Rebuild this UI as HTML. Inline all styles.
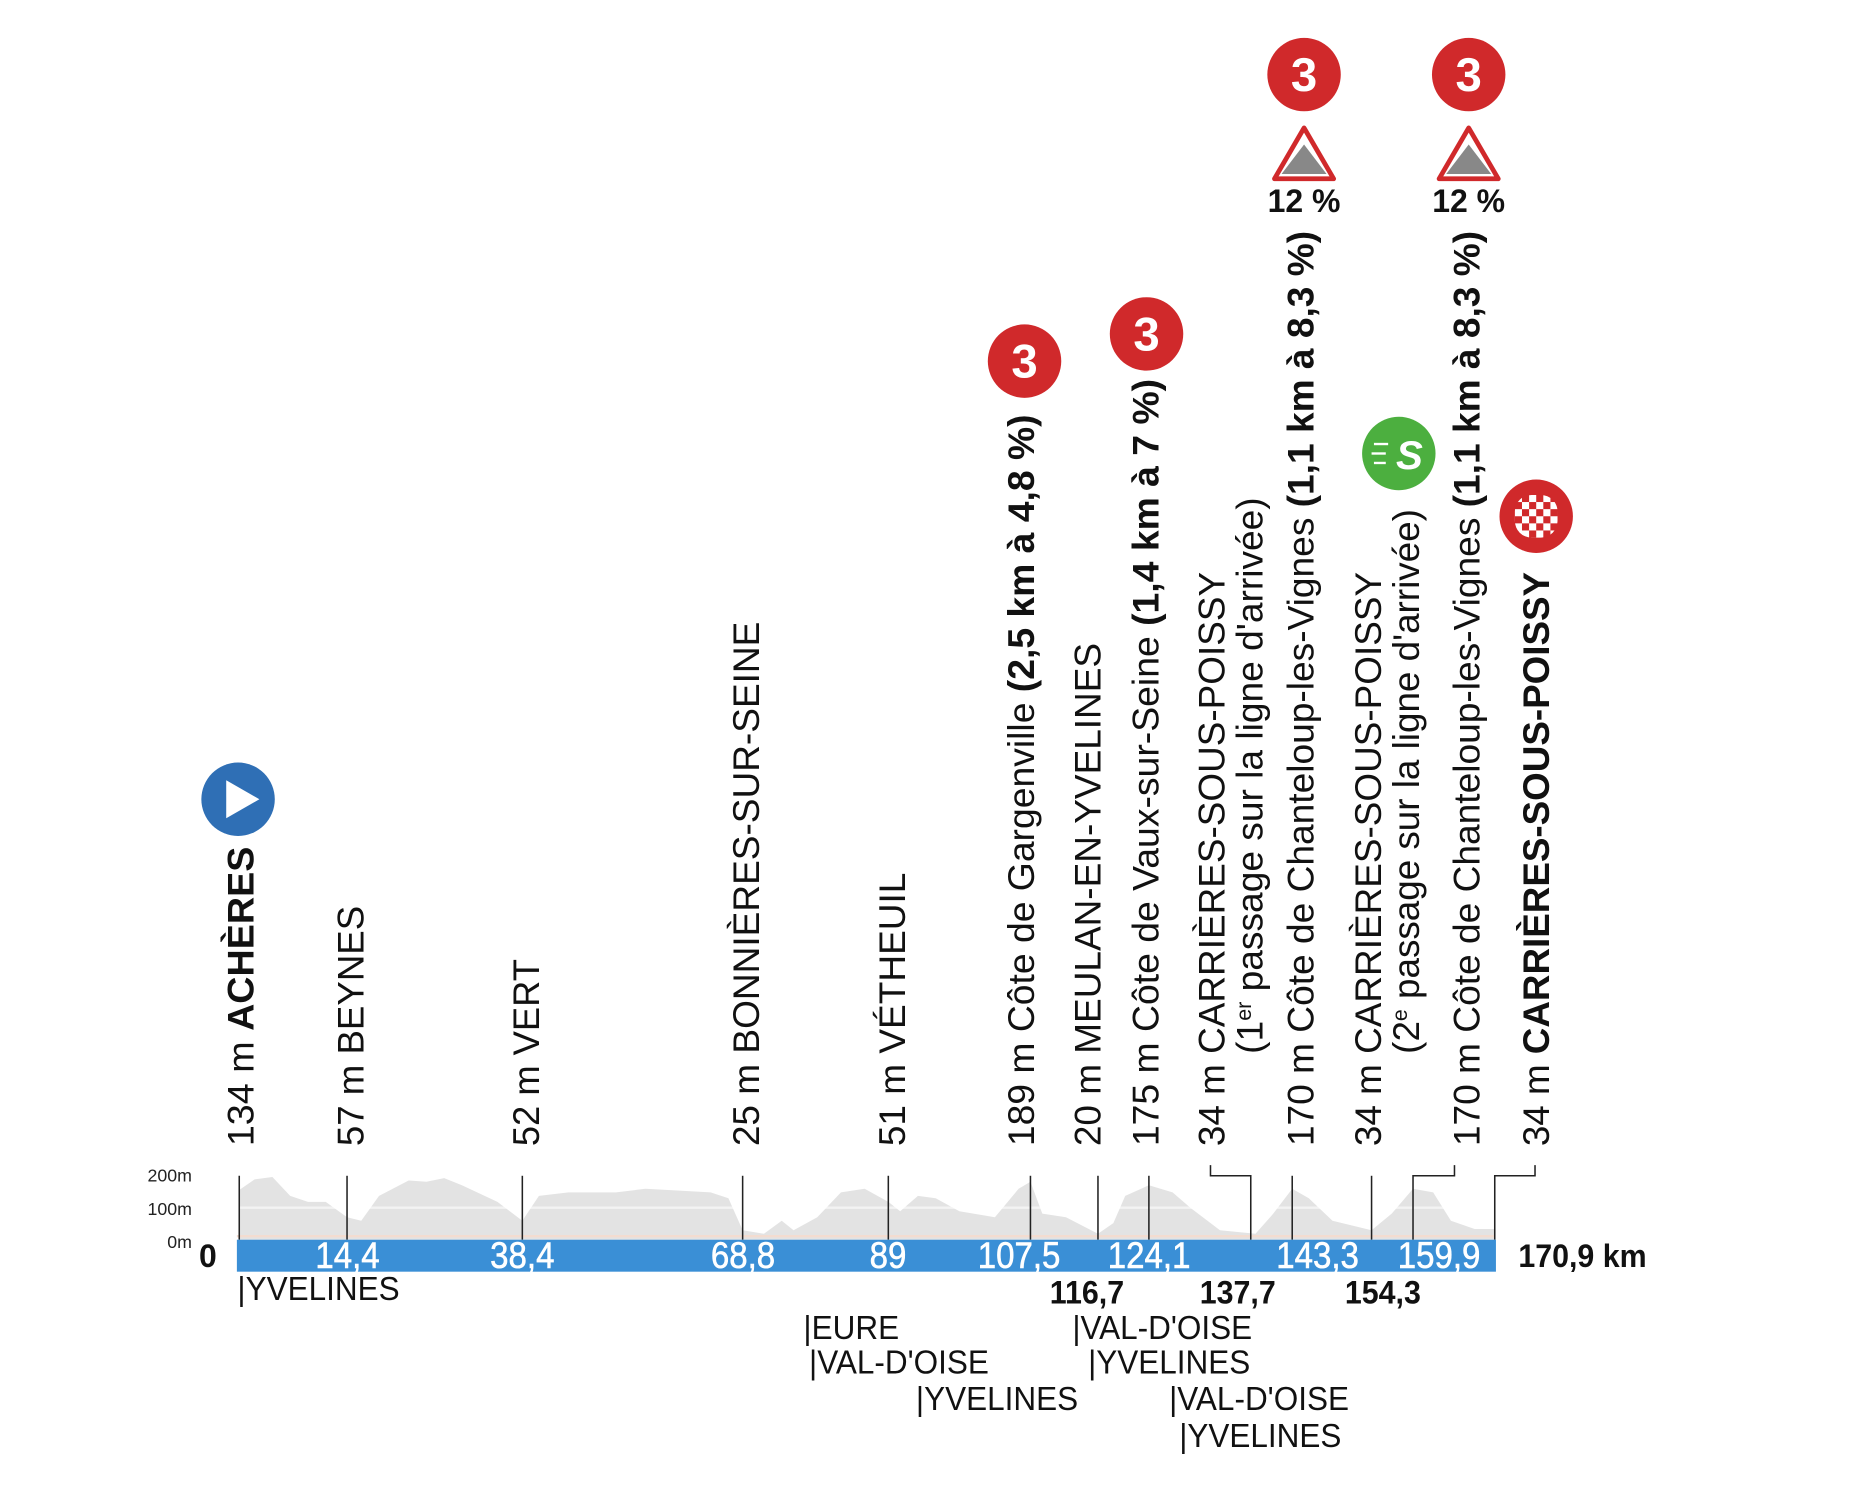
<!DOCTYPE html>
<html><head><meta charset="utf-8"><style>html,body{margin:0;padding:0;background:#fff}svg{display:block}</style></head>
<body>
<svg width="1856" height="1486" viewBox="0 0 1567 1255" preserveAspectRatio="none" xmlns="http://www.w3.org/2000/svg" font-family="'Liberation Sans', sans-serif">
<rect width="1567" height="1255" fill="#fff"/>
<!-- profile -->
<path fill="#e3e3e3" d="M202,1047 L202,1005 L215,996 L230,994 L245,1010 L260,1015 L275,1015 L293,1028 L305,1031 L320,1010 L345,997 L360,998 L375,995 L390,1001 L420,1015 L441,1031 L455,1010 L480,1007 L520,1007 L545,1004 L600,1007 L615,1012 L627,1039 L645,1042 L660,1031 L670,1039 L690,1028 L710,1007 L730,1004 L750,1015 L760,1023 L775,1010 L790,1012 L810,1023 L840,1028 L860,1004 L870,998 L880,1025 L900,1028 L927,1042 L940,1033 L950,1010 L970,1001 L990,1007 L1005,1020 L1030,1039 L1060,1042 L1075,1025 L1091,1004 L1105,1012 L1125,1031 L1158,1039 L1175,1025 L1193,1004 L1210,1007 L1225,1031 L1245,1038 L1262,1038 L1262,1047 Z"/>
<line x1="200" y1="1020" x2="1262" y2="1020" stroke="#fff" stroke-width="2" opacity="0.6"/>
<line x1="200" y1="1044" x2="1262" y2="1044" stroke="#f3dcd0" stroke-width="2"/>
<g font-size="15" fill="#222" text-anchor="end"><text x="162" y="998">200m</text><text x="162" y="1026">100m</text><text x="162" y="1054">0m</text></g>
<!-- ticks -->
<g stroke="#222" stroke-width="1.3" fill="none">
<line x1="202" y1="993" x2="202" y2="1047"/><line x1="293" y1="993" x2="293" y2="1047"/><line x1="441" y1="993" x2="441" y2="1047"/><line x1="627" y1="993" x2="627" y2="1047"/><line x1="750" y1="993" x2="750" y2="1047"/><line x1="870" y1="993" x2="870" y2="1047"/><line x1="927" y1="993" x2="927" y2="1047"/><line x1="970" y1="993" x2="970" y2="1047"/><line x1="1091" y1="993" x2="1091" y2="1047"/><line x1="1158" y1="993" x2="1158" y2="1047"/>
<polyline points="1056,1047 1056,993 1022,993 1022,984"/>
<polyline points="1193,1047 1193,993 1228,993 1228,984"/>
<polyline points="1262,1047 1262,993 1296,993 1296,984"/>
</g>
<rect x="200" y="1047" width="1063" height="27" fill="#3a8fd6"/>
<g font-size="31" fill="#fff" text-anchor="middle" transform="scale(0.9,1)" stroke="#fff" stroke-width="0.5">
<text x="326" y="1071">14,4</text><text x="490" y="1071">38,4</text><text x="697" y="1071">68,8</text><text x="833" y="1071">89</text><text x="956" y="1071">107,5</text><text x="1078" y="1071">124,1</text><text x="1236" y="1071">143,3</text><text x="1350" y="1071">159,9</text>
</g>
<g font-size="27" font-weight="bold" fill="#111">
<text x="168" y="1070">0</text><text x="1282" y="1070" transform="translate(64,0) scale(0.95,1)">170,9 km</text>
</g>
<g font-size="27" font-weight="bold" fill="#111" text-anchor="middle" transform="scale(0.95,1)">
<text x="966" y="1101">116,7</text><text x="1100" y="1101">137,7</text><text x="1229" y="1101">154,3</text>
</g>
<g font-size="28" fill="#111" transform="scale(0.95,1)">
<text x="211" y="1098">|YVELINES</text>
<text x="714" y="1131">|EURE</text>
<text x="719" y="1160">|VAL-D'OISE</text>
<text x="814" y="1191">|YVELINES</text>
<text x="953" y="1131">|VAL-D'OISE</text>
<text x="967" y="1160">|YVELINES</text>
<text x="1039" y="1191">|VAL-D'OISE</text>
<text x="1048" y="1222">|YVELINES</text>
</g>
<!-- vertical labels -->
<g font-size="31" fill="#111">
<text transform="translate(214,968) rotate(-90)" textLength="253" lengthAdjust="spacingAndGlyphs">134 m <tspan font-weight="bold">ACHÈRES</tspan></text>
<text transform="translate(307,968) rotate(-90)" textLength="203" lengthAdjust="spacingAndGlyphs">57 m BEYNES</text>
<text transform="translate(455,968) rotate(-90)" textLength="158" lengthAdjust="spacingAndGlyphs">52 m VERT</text>
<text transform="translate(641,968) rotate(-90)" textLength="443" lengthAdjust="spacingAndGlyphs">25 m BONNIÈRES-SUR-SEINE</text>
<text transform="translate(764,968) rotate(-90)" textLength="231" lengthAdjust="spacingAndGlyphs">51 m VÉTHEUIL</text>
<text transform="translate(873,968) rotate(-90)" textLength="618" lengthAdjust="spacingAndGlyphs">189 m Côte de Gargenville <tspan font-weight="bold">(2,5 km à 4,8 %)</tspan></text>
<text transform="translate(929,968) rotate(-90)" textLength="425" lengthAdjust="spacingAndGlyphs">20 m MEULAN-EN-YVELINES</text>
<text transform="translate(978,968) rotate(-90)" textLength="648" lengthAdjust="spacingAndGlyphs">175 m Côte de Vaux-sur-Seine <tspan font-weight="bold">(1,4 km à 7 %)</tspan></text>
<text transform="translate(1034,968) rotate(-90)" textLength="485" lengthAdjust="spacingAndGlyphs">34 m CARRIÈRES-SOUS-POISSY</text>
<text transform="translate(1066,890) rotate(-90)" textLength="470" lengthAdjust="spacingAndGlyphs">(1<tspan font-size="18" dy="-10">er</tspan><tspan dy="10"> passage sur la ligne d'arrivée)</tspan></text>
<text transform="translate(1109,968) rotate(-90)" textLength="773" lengthAdjust="spacingAndGlyphs">170 m Côte de Chanteloup-les-Vignes <tspan font-weight="bold">(1,1 km à 8,3 %)</tspan></text>
<text transform="translate(1166,968) rotate(-90)" textLength="485" lengthAdjust="spacingAndGlyphs">34 m CARRIÈRES-SOUS-POISSY</text>
<text transform="translate(1198,890) rotate(-90)" textLength="460" lengthAdjust="spacingAndGlyphs">(2<tspan font-size="18" dy="-10">e</tspan><tspan dy="10"> passage sur la ligne d'arrivée)</tspan></text>
<text transform="translate(1249,968) rotate(-90)" textLength="773" lengthAdjust="spacingAndGlyphs">170 m Côte de Chanteloup-les-Vignes <tspan font-weight="bold">(1,1 km à 8,3 %)</tspan></text>
<text transform="translate(1308,968) rotate(-90)" textLength="485" lengthAdjust="spacingAndGlyphs">34 m <tspan font-weight="bold">CARRIÈRES-SOUS-POISSY</tspan></text>
</g>
<!-- icons -->
<circle cx="201" cy="675" r="31" fill="#2f6fb5"/>
<polygon points="191,659 191,691 219,675" fill="#fff"/>
<g font-size="40" font-weight="bold" fill="#fff" text-anchor="middle">
<circle cx="865" cy="305" r="31" fill="#d0292b"/><text x="865" y="319">3</text>
<circle cx="968" cy="282" r="31" fill="#d0292b"/><text x="968" y="296">3</text>
<circle cx="1101" cy="63" r="31" fill="#d0292b"/><text x="1101" y="77">3</text>
<circle cx="1240" cy="63" r="31" fill="#d0292b"/><text x="1240" y="77">3</text>
</g>
<g>
<polygon points="1101,108 1126,151 1076,151" fill="#fff" stroke="#d0292b" stroke-width="4" stroke-linejoin="round"/>
<polygon points="1082,147 1101,122 1120,147" fill="#888"/>
<polygon points="1240,108 1265,151 1215,151" fill="#fff" stroke="#d0292b" stroke-width="4" stroke-linejoin="round"/>
<polygon points="1221,147 1240,122 1259,147" fill="#888"/>
</g>
<g font-size="27" font-weight="bold" fill="#111" text-anchor="middle"><text x="1101" y="179">12 %</text><text x="1240" y="179">12 %</text></g>
<circle cx="1181" cy="383" r="31" fill="#4caf3f"/>
<g stroke="#fff" stroke-width="2"><line x1="1160" y1="375" x2="1172" y2="375"/><line x1="1158" y1="383" x2="1170" y2="383"/><line x1="1160" y1="391" x2="1170" y2="391"/></g>
<text x="1190" y="396" font-size="34" font-weight="bold" font-style="italic" fill="#fff" text-anchor="middle">S</text>
<circle cx="1297" cy="436" r="31" fill="#d0292b"/>
<rect x="1279" y="418" width="36" height="36" rx="14" fill="#fff"/>
<g fill="#d0292b">
<rect x="1285" y="418" width="6" height="6"/><rect x="1297" y="418" width="6" height="6"/><rect x="1309" y="418" width="6" height="6"/>
<rect x="1279" y="424" width="6" height="6"/><rect x="1291" y="424" width="6" height="6"/><rect x="1303" y="424" width="6" height="6"/>
<rect x="1285" y="430" width="6" height="6"/><rect x="1297" y="430" width="6" height="6"/><rect x="1309" y="430" width="6" height="6"/>
<rect x="1279" y="436" width="6" height="6"/><rect x="1291" y="436" width="6" height="6"/><rect x="1303" y="436" width="6" height="6"/>
<rect x="1285" y="442" width="6" height="6"/><rect x="1297" y="442" width="6" height="6"/><rect x="1309" y="442" width="6" height="6"/>
<rect x="1291" y="448" width="6" height="6"/><rect x="1303" y="448" width="6" height="6"/>
</g>
</svg>
</body></html>
